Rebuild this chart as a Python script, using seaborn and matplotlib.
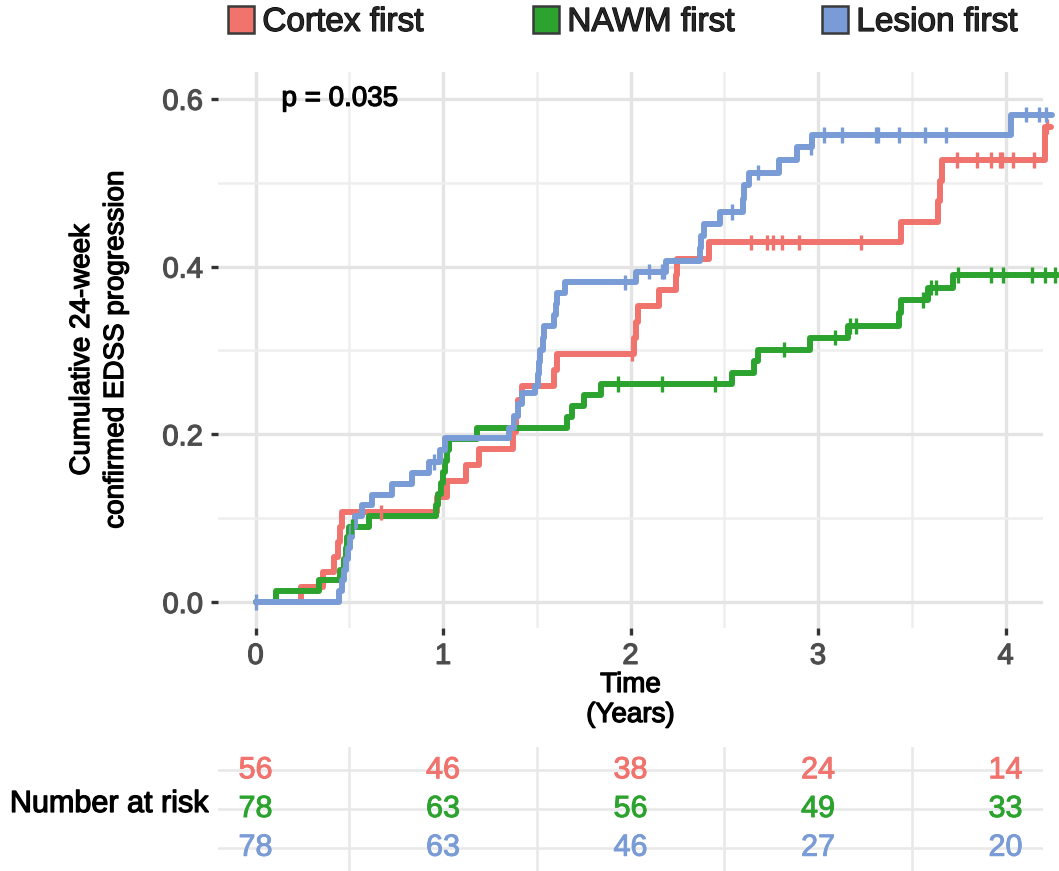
import numpy as np
import pandas as pd
import matplotlib
matplotlib.use("Agg")
import matplotlib.pyplot as plt
import matplotlib.patheffects as pe
import seaborn as sns
from matplotlib.patches import Patch

# ---------------- data ----------------
groups = ["Cortex first", "NAWM first", "Lesion first"]
colors = ["#F0736E", "#2DA32F", "#7A9CD6"]

red_t = [0.24, 0.36, 0.42, 0.44, 0.45, 0.46, 0.97, 1.02, 1.12, 1.19, 1.375, 1.39, 1.40, 1.42,
         1.59, 1.61, 2.02, 2.03, 2.04, 2.15, 2.245, 2.25, 2.42, 3.44, 3.64, 3.65, 3.66, 4.21]
red_v = [0.018, 0.036, 0.054, 0.071, 0.089, 0.107, 0.125, 0.144, 0.163, 0.183, 0.203, 0.222, 0.241, 0.258,
         0.277, 0.296, 0.315, 0.334, 0.353, 0.372, 0.390, 0.409, 0.429, 0.453, 0.478, 0.502, 0.527, 0.567]
red_end = 4.24
red_censor = [0.67, 2.01, 2.64, 2.73, 2.76, 2.81, 2.90, 3.23, 3.74, 3.85, 3.92, 3.97, 3.98, 4.04, 4.15, 4.22]

green_t = [0.107, 0.337, 0.453, 0.47, 0.48, 0.49, 0.50, 0.604, 0.96, 0.975, 0.99, 1.00, 1.01, 1.02, 1.03,
           1.18, 1.66, 1.69, 1.75, 1.84, 2.54, 2.66, 2.68, 2.955, 3.16, 3.43, 3.44, 3.585, 3.72]
green_v = [0.013, 0.026, 0.038, 0.051, 0.064, 0.077, 0.090, 0.103, 0.116, 0.129, 0.142, 0.155, 0.168, 0.181, 0.194,
           0.207, 0.221, 0.234, 0.247, 0.260, 0.273, 0.287, 0.301, 0.315, 0.329, 0.345, 0.360, 0.375, 0.390]
green_end = 4.28
green_censor = [0.515, 1.935, 2.17, 2.45, 2.82, 3.09, 3.17, 3.20, 3.56, 3.60, 3.63, 3.745, 3.92, 3.985,
                4.14, 4.21, 4.265]

blue_t = [0.444, 0.46, 0.47, 0.48, 0.495, 0.505, 0.515, 0.53, 0.568, 0.621, 0.728, 0.834, 0.923, 0.985, 1.01,
          1.35, 1.38, 1.40, 1.42, 1.49, 1.505, 1.51, 1.515, 1.535, 1.54, 1.59, 1.60, 1.607, 1.65, 2.03, 2.19,
          2.37, 2.375, 2.39, 2.476, 2.60, 2.605, 2.63, 2.79, 2.89, 2.97, 4.03]
blue_v = [0.013, 0.026, 0.038, 0.051, 0.064, 0.077, 0.090, 0.103, 0.116, 0.128, 0.141, 0.154, 0.167, 0.181, 0.195,
          0.208, 0.222, 0.236, 0.249, 0.258, 0.272, 0.286, 0.301, 0.315, 0.329, 0.342, 0.355, 0.368, 0.381, 0.394,
          0.407, 0.422, 0.437, 0.451, 0.465, 0.481, 0.497, 0.512, 0.527, 0.542, 0.557, 0.581]
blue_end = 4.25
blue_censor = [0.0, 0.95, 1.97, 2.10, 2.17, 2.18, 2.54, 2.68, 2.96, 3.03, 3.13, 3.31, 3.32, 3.43, 3.57, 3.68,
               4.11, 4.18, 4.215]

risk_times = [0, 1, 2, 3, 4]
risk_red = [56, 46, 38, 24, 14]
risk_green = [78, 63, 56, 49, 33]
risk_blue = [78, 63, 46, 27, 20]

x_ticks = [0, 1, 2, 3, 4]
y_ticks = [0.0, 0.2, 0.4, 0.6]
y_ticklabels = ["0.0", "0.2", "0.4", "0.6"]
p_text = "p = 0.035"

# ---------------- build tables ----------------
series = {
    "Cortex first": (red_t, red_v, red_end, red_censor),
    "NAWM first": (green_t, green_v, green_end, green_censor),
    "Lesion first": (blue_t, blue_v, blue_end, blue_censor),
}
rows, crows = [], []
for g in groups:
    t, v, end, cens = series[g]
    tt = [0.0] + list(t) + [end]
    vv = [0.0] + list(v) + [v[-1]]
    for a, b in zip(tt, vv):
        rows.append((g, a, b))
    tt_arr = np.array(tt)
    vv_arr = np.array(vv)
    for c in cens:
        idx = np.searchsorted(tt_arr, c, side="right") - 1
        crows.append((g, c, vv_arr[max(idx, 0)]))
df = pd.DataFrame(rows, columns=["group", "time", "value"])
cdf = pd.DataFrame(crows, columns=["group", "time", "value"])

# ---------------- style ----------------
sns.set_theme(style="white")
plt.rcParams["font.family"] = ["Liberation Sans", "DejaVu Sans"]


def heavy(color, w=0.9):
    return [pe.Stroke(linewidth=w, foreground=color), pe.Normal()]


W, H = 1059, 871
fig = plt.figure(figsize=(W / 100, H / 100), dpi=100)
L, R, T, B = 218, 1043, 72, 628
ax = fig.add_axes([L / W, 1 - B / H, (R - L) / W, (B - T) / H])

sns.lineplot(data=df, x="time", y="value", hue="group", hue_order=groups, palette=colors,
             drawstyle="steps-post", estimator=None, sort=False, linewidth=4.3,
             legend=False, ax=ax, clip_on=False)
sns.scatterplot(data=cdf, x="time", y="value", hue="group", hue_order=groups, palette=colors,
                marker="|", s=120, linewidth=2.4, legend=False, ax=ax, clip_on=False, zorder=4)

ax.set_xlim(-0.2, 4.2)
ax.set_ylim(-0.031, 0.632)
ax.set_xticks(x_ticks)
ax.set_xticks([0.5, 1.5, 2.5, 3.5], minor=True)
ax.set_yticks(y_ticks)
ax.set_yticklabels(y_ticklabels)
ax.set_yticks([0.1, 0.3, 0.5], minor=True)
ax.grid(which="major", color="#E4E4E4", linewidth=2.4)
ax.grid(which="minor", color="#EEEEEE", linewidth=1.8)
ax.set_axisbelow(True)
for s in ax.spines.values():
    s.set_visible(False)
ax.tick_params(axis="both", which="major", left=True, bottom=True, length=5, width=2.4,
               color="#333333", labelsize=21, labelcolor="#4D4D4D")
ax.tick_params(axis="y", which="major", pad=6)
ax.tick_params(axis="x", which="major", pad=5)
ax.tick_params(which="minor", length=0)
for lab in ax.get_xticklabels() + ax.get_yticklabels():
    lab.set_path_effects(heavy("#4D4D4D"))

ax.set_xlabel("Time\n(Years)", fontsize=20, color="black", linespacing=1.2)
ax.xaxis.set_label_coords(0.5, (B - 700) / (B - T))
ax.xaxis.label.set_va("center")
ax.xaxis.label.set_path_effects(heavy("black"))
ax.set_ylabel("Cumulative 24-week\nconfirmed EDSS progression", fontsize=20, color="black",
              linespacing=1.4)
ax.yaxis.set_label_coords((99 - L) / (R - L), 0.5)
ax.yaxis.label.set_va("center")
ax.yaxis.label.set_path_effects(heavy("black"))

ax.text(0.45, 0.6, p_text, fontsize=20, ha="center", va="center", color="black",
        path_effects=heavy("black"))

# ---------------- legend ----------------
for g, c, xpx in zip(groups, colors, [228, 533, 822]):
    h = Patch(facecolor=c, edgecolor="#3A3A3A", linewidth=1.8, label=g)
    leg = fig.legend(handles=[h], loc="center left", bbox_to_anchor=(xpx / W, 1 - 22 / H),
                     frameon=False, fontsize=24, handlelength=0.78, handleheight=0.85,
                     handletextpad=0.25, borderpad=0, borderaxespad=0)
    for txt in leg.get_texts():
        txt.set_path_effects(heavy("black"))

# ---------------- risk table ----------------
TT = 747
ax2 = fig.add_axes([L / W, 0, (R - L) / W, (H - TT) / H])
ax2.set_xlim(-0.2, 4.2)
ax2.set_ylim(3.6, 0.4)
ax2.set_yticks([1, 2, 3])
ax2.set_xticks([0.5, 1.5, 2.5, 3.5])
ax2.set_xticklabels([])
ax2.set_yticklabels([])
ax2.tick_params(length=0)
ax2.grid(color="#E8E8E8", linewidth=1.8)
ax2.set_axisbelow(True)
for s in ax2.spines.values():
    s.set_visible(False)
for i, (vals, c) in enumerate(zip([risk_red, risk_green, risk_blue], colors)):
    for t, n in zip(risk_times, vals):
        ax2.text(t, i + 1, str(n), color=c, fontsize=22, ha="center", va="center",
                 path_effects=heavy(c, 0.7))
fig.text(208 / W, 1 - 804 / H, "Number at risk", fontsize=22, ha="right", va="center",
         color="black", path_effects=heavy("black"))

fig.savefig("out.png", dpi=100)
